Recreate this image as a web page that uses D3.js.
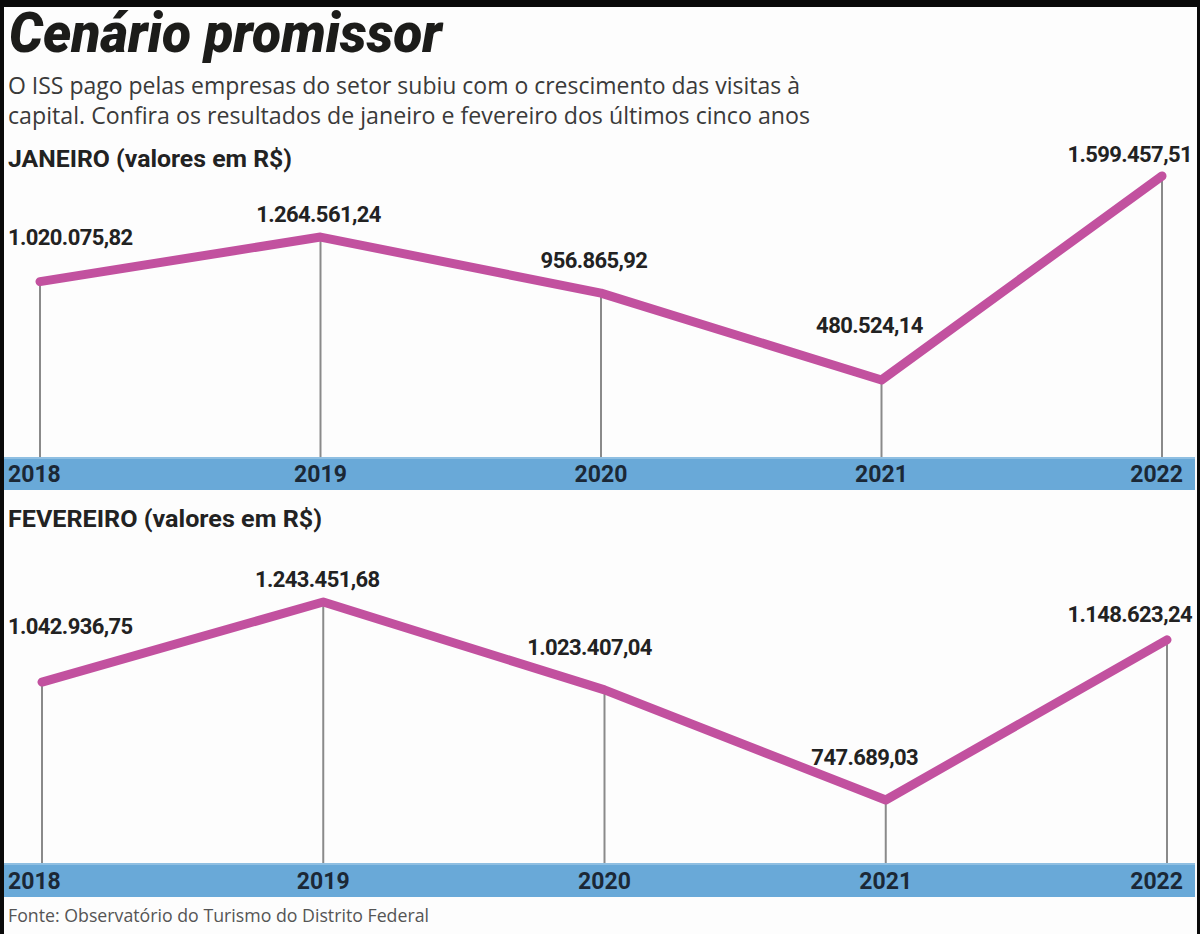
<!DOCTYPE html>
<html>
<head>
<meta charset="utf-8">
<script src="https://cdn.jsdelivr.net/npm/d3@7"></script>
<style>
  html, body { margin: 0; padding: 0; background: #000; }
  svg { display: block; }
</style>
</head>
<body>
<svg id="chart" width="1200" height="934"></svg>
<script>
// ---- data ----
const years = ["2018", "2019", "2020", "2021", "2022"];
const janValues = [1020075.82, 1264561.24, 956865.92, 480524.14, 1599457.51];
const febValues = [1042936.75, 1243451.68, 1023407.04, 747689.03, 1148623.24];
const title = "Cenário promissor";
const subtitleLines = [
  "O ISS pago pelas empresas do setor subiu com o crescimento das visitas à",
  "capital. Confira os resultados de janeiro e fevereiro dos últimos cinco anos"
];
const panelTitles = ["JANEIRO (valores em R$)", "FEVEREIRO (valores em R$)"];
const source = "Fonte: Observatório do Turismo do Distrito Federal";

// ---- format (pt-BR) ----
const ptBR = d3.formatLocale({ decimal: ",", thousands: ".", grouping: [3], currency: ["R$ ", ""] });
const fmt = ptBR.format(",.2f");

const svg = d3.select("#chart");
const W = 1200, H = 934;

// frame: black border with white page
svg.append("rect").attr("x", 0).attr("y", 0).attr("width", W).attr("height", H).attr("fill", "#0a0a0a");
svg.append("rect").attr("x", 4).attr("y", 7).attr("width", 1193).attr("height", H - 7).attr("fill", "#fdfdfd");

function fit(sel, width) {
  sel.attr("textLength", width).attr("lengthAdjust", "spacingAndGlyphs");
}

// title
svg.append("text").text(title)
  .attr("x", 9).attr("y", 52)
  .attr("font-family", "Roboto, 'Open Sans', sans-serif")
  .attr("font-weight", 900).attr("font-style", "italic")
  .attr("font-size", 56).attr("fill", "#1c1c1a")
  .call(fit, 433);

// subtitle
subtitleLines.forEach((t, i) => {
  svg.append("text").text(t)
    .attr("x", 8).attr("y", 94 + i * 30)
    .attr("font-family", "'Open Sans', 'Noto Sans', sans-serif")
    .attr("font-size", 24).attr("fill", "#3a3a3a")
    .call(fit, i === 0 ? 792 : 802);
});

const lineColor = "#c2519f";
const barColor = "#69a9d8";

const panels = [
  { values: janValues, head: panelTitles[0], headW: 284, headY: 167, barTop: 457, barH: 33,
    xRange: [40, 1162], yRange: [380, 176],
    labelDy: [-37, -15, -25, -47, -14], labelDx: [0, -2, -7, -12, 0] },
  { values: febValues, head: panelTitles[1], headW: 314, headY: 527, barTop: 863, barH: 34,
    xRange: [42, 1167], yRange: [800, 602],
    labelDy: [-48, -15, -35, -35, -18], labelDx: [0, -6, -15, -21, 0] }
];

panels.forEach(p => {
  const g = svg.append("g");
  const x = d3.scalePoint().domain(years).range(p.xRange);
  const y = d3.scaleLinear().domain(d3.extent(p.values)).range(p.yRange);
  const data = years.map((yr, i) => ({ year: yr, value: p.values[i], i }));

  // panel heading
  g.append("text").text(p.head)
    .attr("x", 8).attr("y", p.headY)
    .attr("font-family", "Roboto, sans-serif").attr("font-weight", 700)
    .attr("font-size", 23).attr("fill", "#222")
    .call(fit, p.headW);

  // drop lines
  g.selectAll("line.drop").data(data).join("line")
    .attr("class", "drop")
    .attr("x1", d => x(d.year)).attr("x2", d => x(d.year))
    .attr("y1", d => y(d.value)).attr("y2", p.barTop)
    .attr("stroke", "#8a8a8a").attr("stroke-width", 2);

  // blue axis band
  g.append("rect").attr("x", 4).attr("y", p.barTop).attr("width", 1191).attr("height", p.barH)
    .attr("fill", barColor);
  g.append("rect").attr("x", 4).attr("y", p.barTop).attr("width", 1191).attr("height", 2)
    .attr("fill", "#8fbfe2");

  // axis labels
  const axisY = p.barTop + p.barH - 8;
  g.selectAll("text.year").data(data).join("text")
    .attr("class", "year")
    .text(d => d.year)
    .attr("x", d => d.i === 0 ? 8 : d.i === years.length - 1 ? 1183 : x(d.year))
    .attr("y", axisY)
    .attr("text-anchor", d => d.i === 0 ? "start" : d.i === years.length - 1 ? "end" : "middle")
    .attr("font-family", "Roboto, sans-serif").attr("font-weight", 700)
    .attr("font-size", 23).attr("fill", "#1b2836");

  // line
  const line = d3.line().x(d => x(d.year)).y(d => y(d.value));
  g.append("path").datum(data)
    .attr("d", line)
    .attr("fill", "none").attr("stroke", lineColor)
    .attr("stroke-width", 9).attr("stroke-linejoin", "round").attr("stroke-linecap", "round");

  // value labels
  g.selectAll("text.val").data(data).join("text")
    .attr("class", "val")
    .text(d => fmt(d.value))
    .attr("x", d => d.i === 0 ? 8 : d.i === years.length - 1 ? 1192 : x(d.year) + p.labelDx[d.i])
    .attr("y", d => y(d.value) + p.labelDy[d.i])
    .attr("text-anchor", d => d.i === 0 ? "start" : d.i === years.length - 1 ? "end" : "middle")
    .attr("font-family", "Roboto, sans-serif").attr("font-weight", 700)
    .attr("font-size", 22).attr("letter-spacing", -0.6).attr("fill", "#222");
});

// source
svg.append("text").text(source)
  .attr("x", 8).attr("y", 922)
  .attr("font-family", "'Open Sans', 'Noto Sans', sans-serif")
  .attr("font-size", 18).attr("fill", "#555")
  .call(fit, 421);
</script>
</body>
</html>
